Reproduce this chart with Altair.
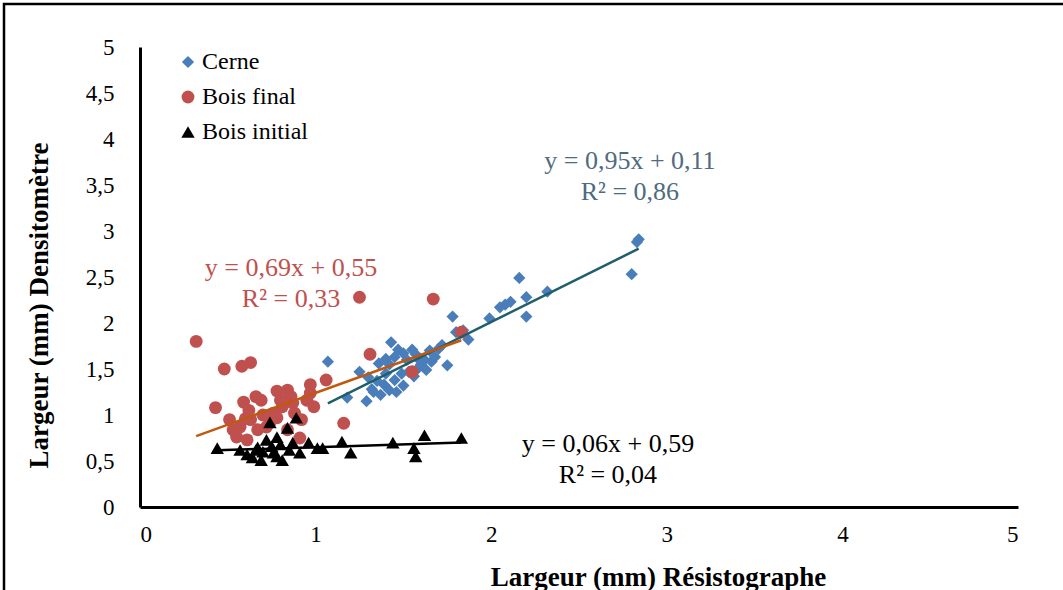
import altair as alt
import pandas as pd

# Cerne (whole ring) widths: resistograph (x) vs densitometer (y), mm
cerne_x = [1.07, 1.18, 1.25, 1.30, 1.32, 1.36, 1.40, 1.43, 1.42, 1.45, 1.47, 1.50, 1.52, 1.55,
           1.57, 1.58, 1.53, 1.49, 1.45, 1.42, 1.39, 1.35, 1.33, 1.37, 1.46, 1.40, 1.50, 1.29,
           1.62, 1.65, 1.68, 1.70, 1.72, 1.75, 1.78, 1.80, 1.84, 1.87, 1.60, 1.63, 1.99, 2.05,
           2.08, 2.11, 2.16, 2.20, 2.20, 2.32, 2.80, 2.83, 2.84, 1.56, 1.59, 1.66]
cerne_y = [1.58, 1.19, 1.47, 1.41, 1.28, 1.56, 1.61, 1.79, 1.55, 1.63, 1.71, 1.67, 1.60, 1.71,
           1.66, 1.50, 1.47, 1.45, 1.38, 1.27, 1.33, 1.37, 1.25, 1.22, 1.25, 1.45, 1.32, 1.15,
           1.60, 1.70, 1.63, 1.72, 1.76, 1.54, 2.07, 1.90, 1.92, 1.82, 1.55, 1.49, 2.05, 2.17,
           2.20, 2.23, 2.49, 2.28, 2.07, 2.34, 2.53, 2.88, 2.91, 1.42, 1.60, 1.58]

# Bois final (latewood)
final_x = [0.32, 0.43, 0.48, 0.58, 0.63, 1.25, 1.67, 1.83, 1.31, 1.06, 1.16, 1.55, 0.97, 0.78,
           0.84, 0.69, 0.59, 0.51, 0.57, 0.63, 0.67, 0.55, 0.76, 0.81, 0.87, 0.95, 0.99, 0.91,
           0.84, 0.72, 0.61, 0.80, 0.97, 0.62, 0.70, 0.74, 0.78, 0.88, 0.92, 0.66, 0.86, 0.53,
           0.60]
final_y = [1.80, 1.08, 1.50, 1.53, 1.57, 2.28, 2.26, 1.90, 1.66, 1.38, 0.91, 1.47, 1.33, 1.26,
           1.27, 1.16, 1.14, 0.95, 0.87, 0.95, 0.84, 0.76, 1.02, 1.09, 1.13, 1.16, 1.09, 0.75,
           0.84, 0.87, 0.73, 1.16, 1.24, 1.05, 1.00, 0.92, 0.97, 1.02, 0.95, 1.20, 1.20, 0.84,
           0.96]

# Bois initial (earlywood)
initial_x = [0.44, 0.57, 0.74, 0.89, 0.84, 0.67, 0.72, 0.78, 0.76, 0.64, 0.87, 0.91, 0.96,
             1.01, 1.04, 0.81, 0.69, 0.61, 1.15, 1.20, 1.44, 1.56, 1.57, 1.62, 1.83, 0.70,
             0.80, 0.75, 0.66, 0.85, 0.78]
initial_y = [0.64, 0.62, 0.92, 0.97, 0.86, 0.65, 0.73, 0.76, 0.59, 0.54, 0.70, 0.59, 0.70,
             0.64, 0.64, 0.51, 0.51, 0.57, 0.71, 0.59, 0.70, 0.64, 0.55, 0.78, 0.75, 0.60,
             0.68, 0.66, 0.62, 0.62, 0.55]

series = ["Cerne", "Bois final", "Bois initial"]
point_colors = ["#4a7ebb", "#c0504d", "#000000"]
point_shapes = ["diamond", "circle", "triangle-up"]
point_sizes = [150, 180, 160]

# Linear trend lines (slope, intercept, R²) and their styling
slopes = [0.95, 0.69, 0.06]
intercepts = [0.11, 0.55, 0.59]
r2 = ["0,86", "0,33", "0,04"]
trend_colors = ["#1f5f6b", "#c0580f", "#000000"]
label_colors = ["#4f6b80", "#c0504d", "#000000"]
label_x = [2.79, 0.86, 2.665]
label_y = [3.76, 2.60, 0.685]

FONT = "Liberation Serif"

xs = [cerne_x, final_x, initial_x]
ys = [cerne_y, final_y, initial_y]

points = pd.concat(
    [pd.DataFrame({"x": x, "y": y, "serie": s}) for x, y, s in zip(xs, ys, series)],
    ignore_index=True,
)

x_scale = alt.Scale(domain=[0, 5], nice=False, zero=True)
y_scale = alt.Scale(domain=[0, 5], nice=False, zero=True)

comma_fmt = "replace(toString(datum.value), '.', ',')"

x_axis = alt.Axis(
    title="Largeur (mm) Résistographe",
    values=[0, 1, 2, 3, 4, 5],
    labelExpr=comma_fmt,
    labelPadding=16,
    titleX=518, titleY=78, titleAlign="center", titleBaseline="alphabetic",
)
y_axis = alt.Axis(
    title="Largeur (mm) Densitomètre",
    values=[0, 0.5, 1, 1.5, 2, 2.5, 3, 3.5, 4, 4.5, 5],
    labelExpr=comma_fmt,
    labelPadding=26,
    titleX=-101, titleY=258, titleAngle=270, titleAlign="center", titleBaseline="middle",
)

scatter = alt.Chart(points).mark_point(filled=True, opacity=1).encode(
    x=alt.X("x:Q", scale=x_scale, axis=x_axis),
    y=alt.Y("y:Q", scale=y_scale, axis=y_axis),
    color=alt.Color(
        "serie:N",
        scale=alt.Scale(domain=series, range=point_colors),
        sort=series,
        legend=alt.Legend(
            title=None, orient="none", legendX=36, legendY=3, padding=0,
            labelOffset=2, rowPadding=11, symbolSize=120, symbolStrokeWidth=0,
        ),
    ),
    shape=alt.Shape("serie:N", scale=alt.Scale(domain=series, range=point_shapes), sort=series),
    size=alt.Size("serie:N", scale=alt.Scale(domain=series, range=point_sizes), legend=None),
)

layers = [scatter]

# Trend lines drawn from the stated equations over each series' x range
for s, xv, a, b, col in zip(series, xs, slopes, intercepts, trend_colors):
    x0, x1 = min(xv), max(xv)
    line_df = pd.DataFrame({"x": [x0, x1], "y": [a * x0 + b, a * x1 + b]})
    layers.append(
        alt.Chart(line_df).mark_line(color=col, strokeWidth=2.5).encode(
            x=alt.X("x:Q", scale=x_scale), y=alt.Y("y:Q", scale=y_scale)
        )
    )

# Equation labels
eq_rows = []
for a, b, r, c, lx, ly in zip(slopes, intercepts, r2, label_colors, label_x, label_y):
    eq = "y = {}x + {}".format(f"{a:.2f}".replace(".", ","), f"{b:.2f}".replace(".", ","))
    eq_rows.append({"x": lx, "y": ly, "text": eq, "c": c})
    eq_rows.append({"x": lx, "y": ly - 0.34, "text": "R² = " + r, "c": c})
eq_df = pd.DataFrame(eq_rows)

labels = alt.Chart(eq_df).mark_text(font=FONT, fontSize=26, align="center", baseline="middle").encode(
    x=alt.X("x:Q", scale=x_scale),
    y=alt.Y("y:Q", scale=y_scale),
    text="text:N",
    color=alt.Color("c:N", scale=None),
)
layers.append(labels)

# Outer frame around the whole figure
frame = alt.Chart(pd.DataFrame({"k": [0]})).mark_rect(
    fill=None, stroke="black", strokeWidth=2.5
).encode(
    x=alt.value(-136), x2=alt.value(940), y=alt.value(-43), y2=alt.value(560)
)
layers.append(frame)

chart = (
    alt.layer(*layers)
    .properties(
        width=878,
        height=460,
        padding={"left": 140, "top": 47, "right": 45, "bottom": 83},
        autosize=alt.AutoSizeParams(type="none"),
        background="white",
    )
    .configure_view(stroke=None)
    .configure_axis(
        grid=False, ticks=False, domainColor="black", domainWidth=3,
        labelFont=FONT, labelFontSize=23, labelColor="black",
        titleFont=FONT, titleFontSize=27, titleFontWeight="bold", titleColor="black",
    )
    .configure_legend(labelFont=FONT, labelFontSize=24, labelColor="black")
)

chart.save("out.html", embed_options={"renderer": "svg", "actions": False})
